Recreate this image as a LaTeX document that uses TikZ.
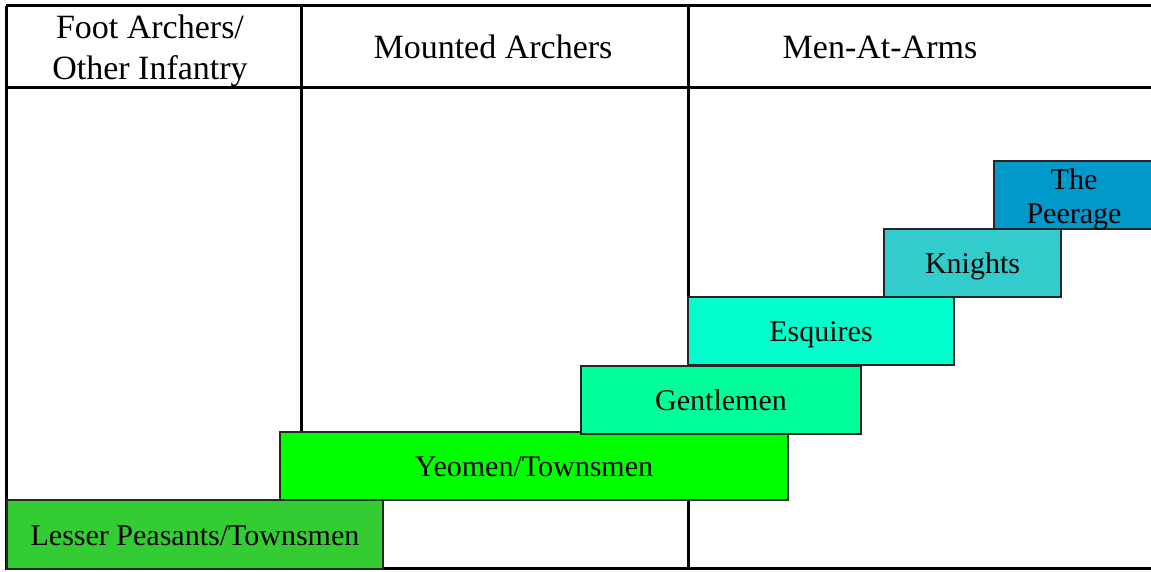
\documentclass[tikz,border=0pt]{standalone}
\usepackage{fontspec}
\setmainfont{Liberation Serif}
\usetikzlibrary{calc}

\begin{document}
\begin{tikzpicture}[x={(1pt,0pt)}, y={(0pt,-1pt)}]
%styles
\tikzstyle{grid}=[line width=3pt, black]
\tikzstyle{head}=[rectangle, text=black, align=center, font=\fontsize{34}{41}\selectfont]
\tikzstyle{rank}=[rectangle, draw=black!85, line width=2pt, text=black, inner sep=0pt, anchor=north west, align=center, font=\fontsize{30}{35}\selectfont]
\tikzstyle{oneline}=[text height=21pt, text depth=0pt]

\useasboundingbox (0,0) rectangle (1151,572);
\clip (0,0) rectangle (1151,572);

%table
\coordinate (tl) at (6,6);
\coordinate (tr) at (1151,6);
\coordinate (bl) at (6,568);
\coordinate (br) at (1151,568);
\draw[grid] (tl) -- (tr);
\draw[grid] (tl) -- (bl) -- (br);
\draw[grid] (6,88) -- (1151,88);
\draw[grid] (301,5) -- (301,568);
\draw[grid] (688,5) -- (688,568);

%headers
\node[head] (foot) at (150,51) {Foot Archers/\\Other Infantry};
\node[head] (mounted) at (493,47) {Mounted Archers};
\node[head] (men) at (880,47) {Men-At-Arms};

%ranks
\node[rank, oneline, fill={rgb,255:red,51;green,204;blue,51}, minimum width=376, minimum height=69] (lesser) at (6,499) {Lesser Peasants/Townsmen};
\node[rank, oneline, fill={rgb,255:red,0;green,255;blue,0}, minimum width=508, minimum height=68] (yeomen) at (279,431) {Yeomen/Townsmen};
\node[rank, oneline, fill={rgb,255:red,0;green,255;blue,153}, minimum width=280, minimum height=68] (gentlemen) at (580,365) {Gentlemen};
\node[rank, oneline, fill={rgb,255:red,0;green,255;blue,204}, minimum width=266, minimum height=68] (esquires) at (687,296) {Esquires};
\node[rank, oneline, fill={rgb,255:red,51;green,204;blue,204}, minimum width=177, minimum height=68] (knights) at (883,228) {Knights};
\node[rank, text depth=0pt, fill={rgb,255:red,0;green,153;blue,204}, minimum width=160, minimum height=68] (peerage) at (993,160) {\rule{0pt}{23pt}The\\Peerage};
\end{tikzpicture}
\end{document}
